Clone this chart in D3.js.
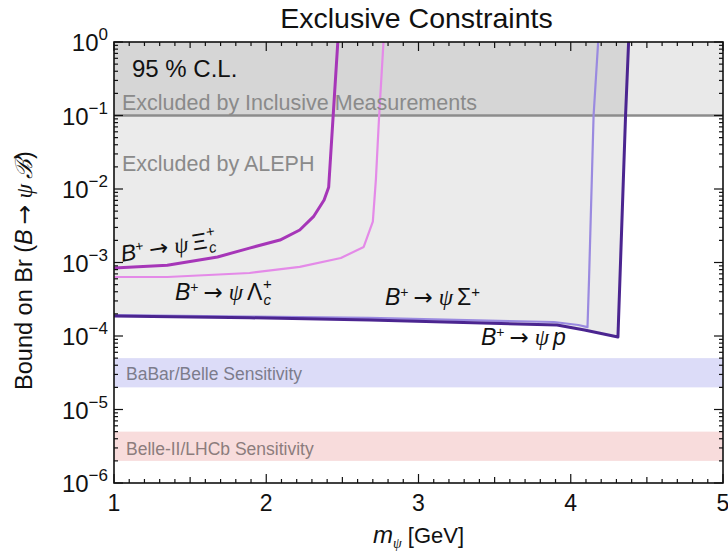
<!DOCTYPE html>
<html>
<head>
<meta charset="utf-8">
<script src="https://cdn.jsdelivr.net/npm/d3@7"></script>
<style>
  body { margin: 0; background: #fff; }
  svg { font-family: "Liberation Sans", Arial, sans-serif; }
</style>
</head>
<body>
<svg id="chart" width="728" height="553"></svg>
<script>
// curves: [m_psi (GeV), bound on Br]
const xiCurve = [[1.00, 8.4e-4], [1.35, 9.2e-4], [1.68, 1.19e-3], [1.89, 1.57e-3], [2.09, 2.02e-3],
  [2.22, 2.77e-3], [2.31, 4.2e-3], [2.38, 7.1e-3], [2.41, 1.06e-2], [2.47, 1]];
const lambdaCurve = [[1.00, 6.35e-4], [1.35, 6.35e-4], [1.89, 7.2e-4], [2.22, 8.7e-4], [2.49, 1.15e-3],
  [2.64, 1.63e-3], [2.70, 3.6e-3], [2.72, 1.33e-2], [2.74, 0.087], [2.77, 1]];
const sigmaCurve = [[1.00, 1.93e-4], [1.89, 1.84e-4], [2.68, 1.76e-4], [3.89, 1.55e-4], [4.05, 1.41e-4],
  [4.11, 1.32e-4], [4.12, 5.8e-4], [4.15, 0.1], [4.18, 1]];
const protonCurve = [[1.00, 1.87e-4], [1.89, 1.77e-4], [2.68, 1.65e-4], [3.91, 1.41e-4], [4.09, 1.21e-4],
  [4.31, 9.7e-5], [4.36, 0.1], [4.38, 1]];

const inclusiveLimit = 0.1;
const babarBand = [2e-5, 5e-5];
const belle2Band = [2e-6, 5e-6];

const xTicks = [1, 2, 3, 4, 5];
const yTickExps = [0, -1, -2, -3, -4, -5, -6];

const svg = d3.select('#chart');
const margin = {top: 42, right: 5, bottom: 70, left: 114};
const width = 728 - margin.left - margin.right;
const height = 553 - margin.top - margin.bottom;

const x = d3.scaleLinear().domain([1, 5]).range([0, width]);
const y = d3.scaleLog().domain([1e-6, 1]).range([height, 0]);

const g = svg.append('g').attr('transform', `translate(${margin.left},${margin.top})`);

g.append('clipPath').attr('id', 'clip')
  .append('rect').attr('width', width).attr('height', height);

const plot = g.append('g').attr('clip-path', 'url(#clip)');

// sensitivity bands
plot.append('rect')
  .attr('x', 0).attr('width', width)
  .attr('y', y(babarBand[1])).attr('height', y(babarBand[0]) - y(babarBand[1]))
  .attr('fill', '#dcdcf8');
plot.append('rect')
  .attr('x', 0).attr('width', width)
  .attr('y', y(belle2Band[1])).attr('height', y(belle2Band[0]) - y(belle2Band[1]))
  .attr('fill', '#f8dcdc');

// excluded by ALEPH: everything above the outermost curve
const line = d3.line().x(d => x(d[0])).y(d => y(d[1]));
const region = protonCurve.concat([[1, 1]]);
plot.append('path')
  .attr('d', line(region) + 'Z')
  .attr('fill', '#000').attr('fill-opacity', 0.08);

// excluded by inclusive measurements
plot.append('rect')
  .attr('x', 0).attr('width', width)
  .attr('y', 0).attr('height', y(inclusiveLimit))
  .attr('fill', '#000').attr('fill-opacity', 0.085);
plot.append('line')
  .attr('x1', 0).attr('x2', width)
  .attr('y1', y(inclusiveLimit)).attr('y2', y(inclusiveLimit))
  .attr('stroke', '#8c8c8c').attr('stroke-width', 2.5);

// curves
const curves = [
  {data: lambdaCurve, color: '#e48ae8', w: 2.2},
  {data: xiCurve, color: '#a636b8', w: 3},
  {data: sigmaCurve, color: '#9a8ae0', w: 2.2},
  {data: protonCurve, color: '#4b2590', w: 3}
];
curves.forEach(c => {
  plot.append('path')
    .attr('d', line(c.data))
    .attr('fill', 'none')
    .attr('stroke', c.color)
    .attr('stroke-width', c.w)
    .attr('stroke-linejoin', 'round');
});

// text annotations
g.append('text').attr('x', 18).attr('y', 35)
  .attr('font-size', 24).attr('fill', '#111').text('95 % C.L.');
g.append('text').attr('x', 8).attr('y', 68)
  .attr('font-size', 21.5).attr('fill', '#8a8a8a').text('Excluded by Inclusive Measurements');
g.append('text').attr('x', 8).attr('y', 129)
  .attr('font-size', 21.5).attr('fill', '#8a8a8a').text('Excluded by ALEPH');
g.append('text').attr('x', 12).attr('y', 338)
  .attr('font-size', 17.5).attr('fill', '#7c7c8c').text('BaBar/Belle Sensitivity');
g.append('text').attr('x', 12).attr('y', 413)
  .attr('font-size', 17.5).attr('fill', '#8c7c7c').text('Belle-II/LHCb Sensitivity');

// decay labels
function decayLabel(xv, yv, baryon, sub, sup, angle) {
  const t = g.append('text')
    .attr('transform', `translate(${x(xv)},${y(yv)}) rotate(${angle})`)
    .attr('font-size', 23).attr('fill', '#111');
  t.append('tspan').attr('font-style', 'italic').text('B');
  t.append('tspan').attr('font-size', 14).attr('dy', -8).text('+');
  t.append('tspan').attr('dy', 8).attr('dx', 5).attr('font-family', '"DejaVu Sans", sans-serif')
    .text('\u2192');
  t.append('tspan').attr('dx', 6).attr('font-family', '"Liberation Serif", serif')
    .attr('font-style', 'italic').text('\u03C8');
  t.append('tspan').attr('dx', 4).attr('font-style', baryon === 'p' ? 'italic' : 'normal').text(baryon);
  if (sub && sup) {
    t.append('tspan').attr('font-size', 15).attr('font-style', 'italic').attr('dx', 1).attr('dy', 5).text(sub);
    t.append('tspan').attr('font-size', 15).attr('dx', -8).attr('dy', -16).text(sup);
  } else if (sup) {
    t.append('tspan').attr('font-size', 15).attr('dy', -8).text(sup);
  }
}
decayLabel(1.053, 1.02e-3, '\u039E', 'c', '+', -9);
decayLabel(1.40, 3.1e-4, '\u039B', 'c', '+', 0);
decayLabel(2.78, 2.64e-4, '\u03A3', null, '+', 0);
decayLabel(3.41, 7.5e-5, 'p', null, null, 0);

// ticks (inward, all four sides)
const xMinor = d3.range(1, 5.001, 0.1).map(v => +v.toFixed(2));
xMinor.forEach(v => {
  const isMajor = Math.abs(v - Math.round(v)) < 1e-6;
  const isHalf = Math.abs(v - Math.floor(v) - 0.5) < 1e-6;
  const len = isMajor ? 9 : (isHalf ? 6 : 4);
  g.append('line').attr('x1', x(v)).attr('x2', x(v)).attr('y1', height).attr('y2', height - len)
    .attr('stroke', '#111').attr('stroke-width', 1.2);
  g.append('line').attr('x1', x(v)).attr('x2', x(v)).attr('y1', 0).attr('y2', len)
    .attr('stroke', '#111').attr('stroke-width', 1.2);
});
const yAll = [];
for (let e = -6; e < 0; e++) {
  for (let m = 1; m < 10; m++) yAll.push({v: m * Math.pow(10, e), major: m === 1});
}
yAll.push({v: 1, major: true});
yAll.forEach(t => {
  const len = t.major ? 9 : 4;
  g.append('line').attr('x1', 0).attr('x2', len).attr('y1', y(t.v)).attr('y2', y(t.v))
    .attr('stroke', '#111').attr('stroke-width', 1.2);
  g.append('line').attr('x1', width).attr('x2', width - len).attr('y1', y(t.v)).attr('y2', y(t.v))
    .attr('stroke', '#111').attr('stroke-width', 1.2);
});

// frame
g.append('rect').attr('width', width).attr('height', height)
  .attr('fill', 'none').attr('stroke', '#111').attr('stroke-width', 1.6);

// tick labels
xTicks.forEach(v => {
  g.append('text').attr('x', x(v)).attr('y', height + 28)
    .attr('text-anchor', 'middle').attr('font-size', 23).attr('fill', '#111').text(v);
});
yTickExps.forEach(e => {
  const t = g.append('text').attr('x', -6).attr('y', y(Math.pow(10, e)) + 9)
    .attr('text-anchor', 'end').attr('font-size', 24).attr('fill', '#111');
  t.append('tspan').text('10');
  t.append('tspan').attr('font-size', 17).attr('dy', -11).text(e === 0 ? '0' : '\u2212' + (-e));
});

// axis titles
svg.append('text').attr('x', margin.left + width / 2 - 2).attr('y', 28)
  .attr('text-anchor', 'middle').attr('font-size', 28.5).attr('fill', '#111').text('Exclusive Constraints');

const xl = svg.append('text').attr('x', margin.left + width / 2).attr('y', 543)
  .attr('text-anchor', 'middle').attr('font-size', 22).attr('fill', '#111');
xl.append('tspan').attr('font-style', 'italic').attr('font-size', 24).text('m');
xl.append('tspan').attr('font-family', '"Liberation Serif", serif').attr('font-style', 'italic')
  .attr('font-size', 14).attr('dy', 5).text('\u03C8');
xl.append('tspan').attr('dy', -5).text(' [GeV]');

const yl = svg.append('text')
  .attr('transform', `translate(32,${margin.top + height / 2 + 8}) rotate(-90)`)
  .attr('text-anchor', 'middle').attr('font-size', 23.5).attr('fill', '#111');
yl.append('tspan').text('Bound on Br (');
yl.append('tspan').attr('font-style', 'italic').text('B');
yl.append('tspan').attr('dx', 5).attr('font-family', '"DejaVu Sans", sans-serif').text('\u2192');
yl.append('tspan').attr('dx', 6).attr('font-family', '"Liberation Serif", serif').attr('font-style', 'italic').text('\u03C8');
yl.append('tspan').attr('dx', 5).attr('font-family', '"DejaVu Serif", serif').attr('font-style', 'italic').text('\u212C');
yl.append('tspan').text(')');
</script>
</body>
</html>
